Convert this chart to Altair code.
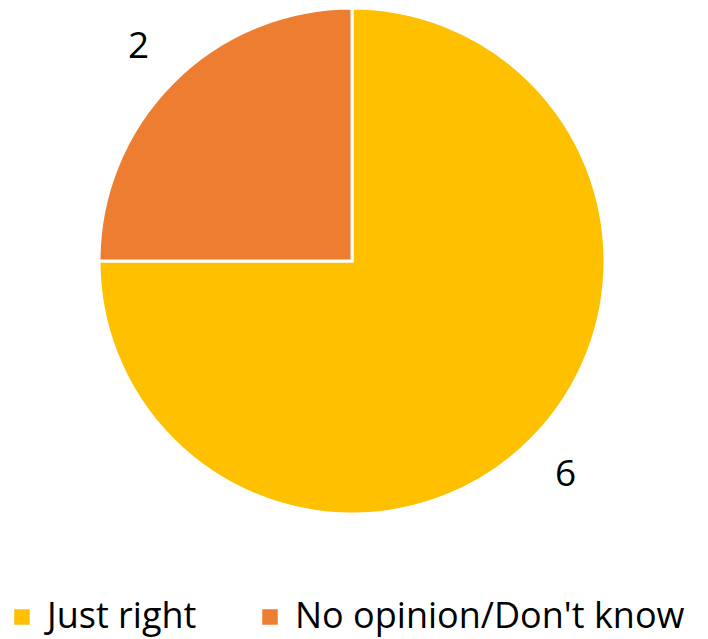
import altair as alt
import pandas as pd

categories = ["Just right", "No opinion/Don't know"]
values = [6, 2]
colors = ["#FFC000", "#ED7D31"]

df = pd.DataFrame({"category": categories, "value": values, "order": [0, 1]})

FONT = "Open Sans"

base = alt.Chart(df).encode(
    theta=alt.Theta("value:Q", stack=True),
    order=alt.Order("order:Q"),
    x=alt.value(344),
    y=alt.value(253),
)

pie = base.mark_arc(outerRadius=253, stroke="white", strokeWidth=3).encode(
    color=alt.Color(
        "category:N",
        scale=alt.Scale(domain=categories, range=colors),
        sort=categories,
        legend=alt.Legend(
            title=None,
            orient="none",
            legendX=-4,
            legendY=591,
            padding=0,
            direction="horizontal",
            symbolType="square",
            symbolSize=240,
            symbolStrokeWidth=0,
            labelFontSize=36,
            labelFont=FONT,
            labelColor="black",
            labelOffset=7,
            labelLimit=0,
            columnPadding=55,
        ),
    )
)

labels = base.mark_text(radius=302, fontSize=37, font=FONT, color="black",
                        align="center", baseline="middle").encode(
    text=alt.Text("value:Q")
)

chart = (pie + labels).properties(
    width=692, height=631, autosize=alt.AutoSizeParams(type="none"), padding=0
).configure_view(stroke=None)

chart.save("out.html", embed_options={"renderer": "svg", "actions": False})
